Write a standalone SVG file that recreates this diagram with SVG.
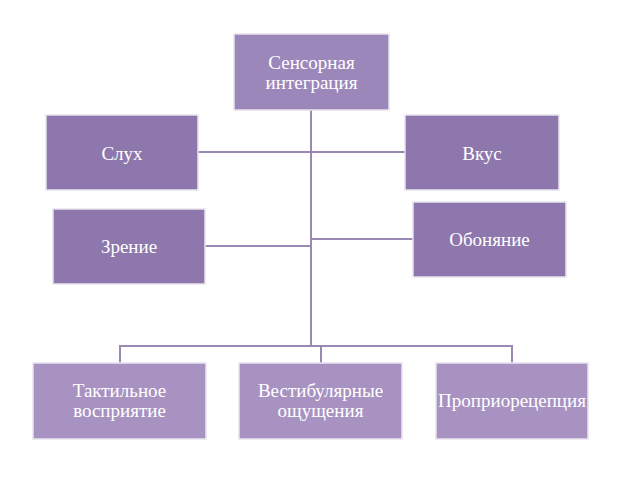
<svg xmlns="http://www.w3.org/2000/svg" width="638" height="479" viewBox="0 0 638 479">
<style>
.n{stroke:#e8e4ee;stroke-width:1.5}
.top{fill:#9c87bb}
.mid{fill:#8d77ad}
.bot{fill:#a792c1}
.t{font-family:"Liberation Serif","Times New Roman",serif;font-size:19px;fill:#ffffff;text-anchor:middle}
.c{stroke:#9a8ab3;stroke-width:2;fill:none}
</style>
<rect width="638" height="479" fill="#ffffff"/>
<g id="connectors">
<path class="c" d="M311 110 V346"/>
<path class="c" d="M198 152 H405"/>
<path class="c" d="M205 246 H311"/>
<path class="c" d="M311 239 H413"/>
<path class="c" d="M120 363 V346 H512 V363"/>
<path class="c" d="M321 346 V363"/>
</g>
<g id="n-sensor"><rect class="n top" x="234" y="34" width="155" height="76"/><text class="t" x="311.5" y="69">Сенсорная</text><text class="t" x="311.5" y="89">интеграция</text></g>
<g id="n-sluh"><rect class="n mid" x="46" y="115" width="152" height="75"/><text class="t" x="122" y="160">Слух</text></g>
<g id="n-vkus"><rect class="n mid" x="405" y="115" width="154" height="75"/><text class="t" x="482" y="160">Вкус</text></g>
<g id="n-zrenie"><rect class="n mid" x="53" y="209" width="152" height="75"/><text class="t" x="129" y="253">Зрение</text></g>
<g id="n-obonyanie"><rect class="n mid" x="413" y="202" width="153" height="75"/><text class="t" x="489.5" y="246">Обоняние</text></g>
<g id="n-taktil"><rect class="n bot" x="33" y="363" width="173" height="76"/><text class="t" x="119.5" y="397">Тактильное</text><text class="t" x="119.5" y="417">восприятие</text></g>
<g id="n-vestib"><rect class="n bot" x="239" y="363" width="163" height="76"/><text class="t" x="320.5" y="397">Вестибулярные</text><text class="t" x="320.5" y="417">ощущения</text></g>
<g id="n-proprio"><rect class="n bot" x="436" y="363" width="152" height="76"/><text class="t" x="512" y="407">Проприорецепция</text></g>
</svg>
